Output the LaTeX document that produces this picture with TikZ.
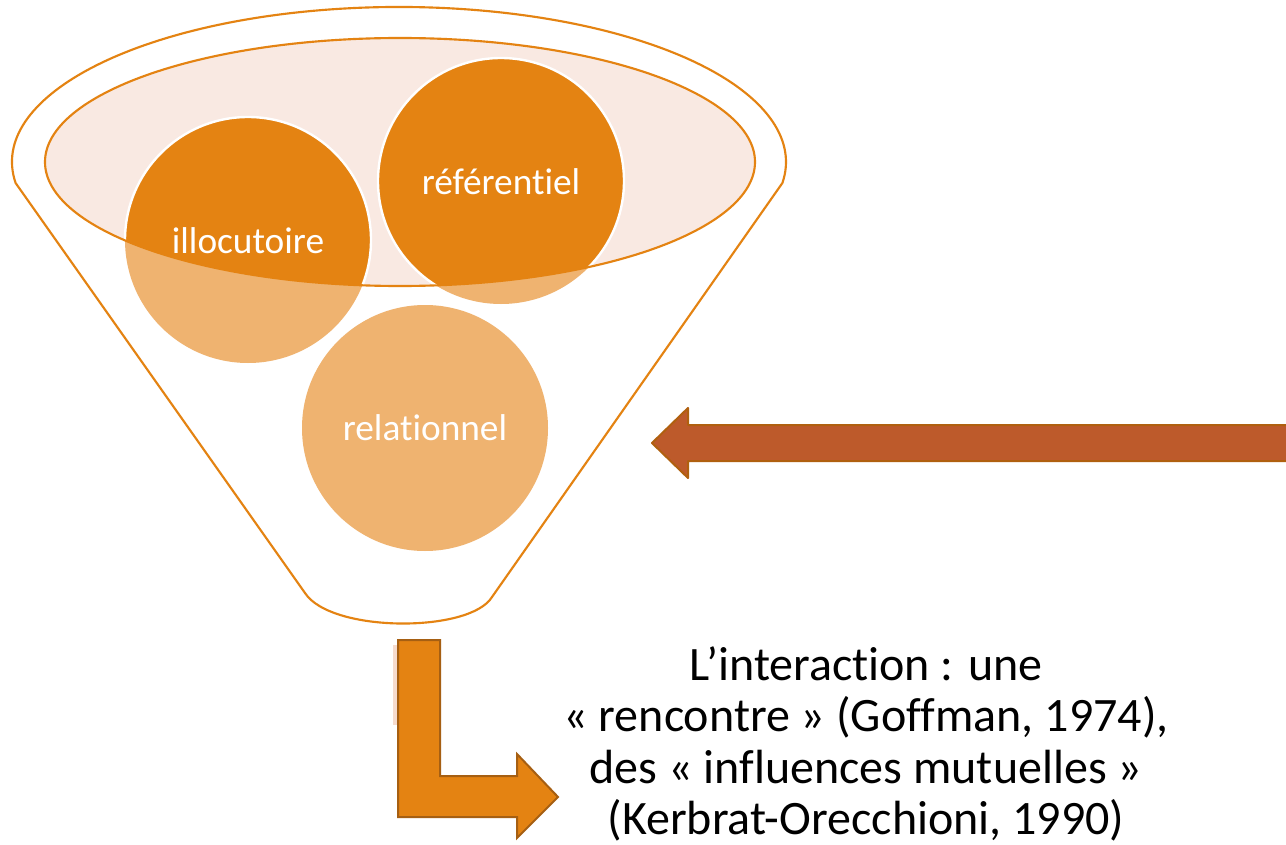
\documentclass[tikz,border=0pt]{standalone}
\usepackage{fontspec}
\setmainfont{Carlito}[Ligatures=NoCommon]
\definecolor{dorange}{HTML}{E48312}
\definecolor{lorange}{HTML}{EFB370}
\definecolor{pinkfill}{HTML}{F9E9E2}
\definecolor{arrowbrown}{HTML}{BD5A2B}
\definecolor{arrowedge}{HTML}{B0600F}
\definecolor{bentedge}{HTML}{A65F12}
\definecolor{faintpink}{HTML}{F3CDB8}
\tikzset{
  funnelline/.style={draw=dorange, line width=1.6pt},
  circlabel/.style={text=white, font=\fontsize{28}{32}\selectfont, inner sep=0pt},
  bigtext/.style={text=black, font=\fontsize{36}{38.5}\selectfont, align=center, inner sep=0pt},
}
\begin{document}
\begin{tikzpicture}[x=0.75pt,y=0.75pt]
\useasboundingbox (0,0) rectangle (1286,-845);
\fill[white] (0,0) rectangle (1286,-845);

% inner ellipse fill
\fill[pinkfill] (400,-162) ellipse [x radius=355, y radius=124];

% circles (light part)
\fill[lorange] (248,-240) circle [radius=123];
\fill[lorange] (501,-181) circle [radius=123];
\fill[lorange] (425,-428) circle [radius=123];

% circles (dark part inside the inner ellipse)
\begin{scope}
  \clip (400,-162) ellipse [x radius=355, y radius=124];
  \filldraw[fill=dorange, draw=white, line width=1.8pt] (248,-240) circle [radius=123];
  \filldraw[fill=dorange, draw=white, line width=1.8pt] (501,-181) circle [radius=123];
\end{scope}

% inner ellipse outline
\draw[funnelline] (400,-162) ellipse [x radius=355, y radius=124];

% funnel outline
\draw[funnelline, line join=round]
  (15.6,-183) arc [start angle=187.8, end angle=-7.8, x radius=387, y radius=155]
  -- (492,-597)
  .. controls (470,-633) and (331,-633) .. (305,-593)
  -- cycle;

% labels
\node[circlabel] (illo) at (248,-241) {illocutoire};
\node[circlabel] (refe) at (501,-182) {référentiel};
\node[circlabel] (rela) at (425,-428) {relationnel};

% left arrow
\coordinate (latip) at (652,-443);
\filldraw[fill=arrowbrown, draw=arrowedge, line width=1.5pt, line join=round]
  (1296,-425) -- (688,-425) -- (688,-408) -- (latip) -- (688,-478) -- (688,-461) -- (1296,-461) -- cycle;

% faint strip
\fill[faintpink, opacity=0.7] (393,-645) rectangle (398,-725);

% bent arrow
\coordinate (batip) at (558,-797);
\filldraw[fill=dorange, draw=bentedge, line width=1.5pt, line join=miter]
  (398,-640) -- (440,-640) -- (440,-776) -- (517,-776) -- (517,-754) -- (batip)
  -- (517,-838) -- (517,-817) -- (398,-817) -- cycle;

% text
\node[bigtext] (txt) at (866,-744) {L’interaction~: une\\« rencontre » (Goffman, 1974),\\des « influences mutuelles »\\(Kerbrat-Orecchioni, 1990)};
\end{tikzpicture}
\end{document}
